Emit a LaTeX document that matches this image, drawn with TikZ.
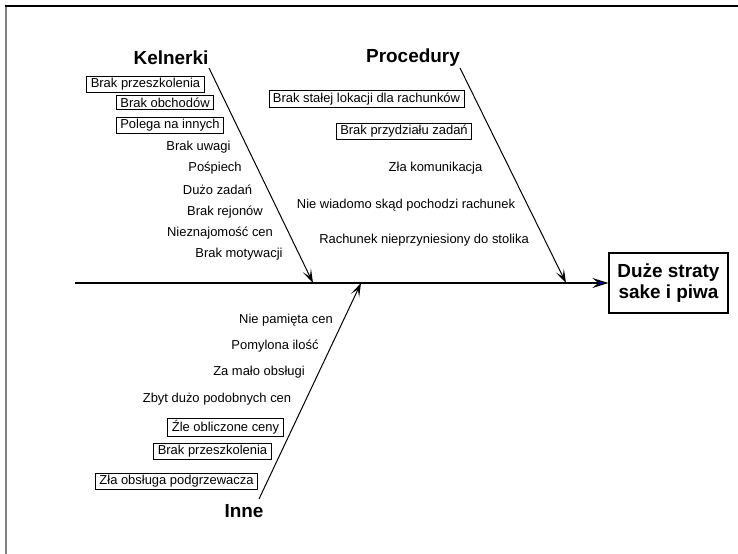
\documentclass[tikz,border=0pt]{standalone}
\usepackage{fontspec}
\setmainfont{Liberation Sans}
\usetikzlibrary{arrows.meta}
\begin{document}
\begin{tikzpicture}[x=1bp,y=-1bp,
  lbl/.style={font=\fontsize{13}{15}\selectfont, inner sep=0pt},
  blbl/.style={lbl, draw, line width=0.8bp, inner xsep=4bp, inner ysep=2bp},
  ttl/.style={font=\bfseries\fontsize{19}{21}\selectfont, inner sep=0pt},
  bone/.style={line width=1bp, -{Stealth[length=14bp,width=9bp,inset=7bp]}}
]
\useasboundingbox (0,0) rectangle (738,554);
\draw[gray, line width=1.2bp] (6,554) -- (6,6);
\draw[line width=1.2bp] (5,6) -- (738,6);

% effect
\node[draw, line width=1.2bp, align=center, font=\bfseries\fontsize{19}{21}\selectfont,
      minimum width=119bp, minimum height=60bp, inner sep=0pt] (eff) at (668.5,283) {Duże straty\\sake i piwa};
\coordinate (tail) at (75,283);
\draw[line width=1.2bp, -{Stealth[length=16bp,width=10bp,inset=6bp,fill=blue!80!black]}] (tail) -- (eff.west);

% titles
\node[ttl] (kel) at (171,58) {Kelnerki};
\node[ttl] (pro) at (413,58) {Procedury};
\node[ttl] (inn) at (244,511) {Inne};

% bones
\coordinate (ks) at (209,68);
\coordinate (kj) at (313,283);
\coordinate (ps) at (460,68);
\coordinate (pj) at (566,283);
\coordinate (is) at (259,499);
\coordinate (ij) at (361,283);
\draw[bone] (ks) -- (kj);
\draw[bone] (ps) -- (pj);
\draw[bone] (is) -- (ij);

% Kelnerki causes
\node[blbl] (k1) at (145.5,84) {Brak przeszkolenia};
\node[blbl] (k2) at (165,102.5) {Brak obchodów};
\node[blbl] (k3) at (170,125.5) {Polega na innych};
\node[lbl] (k4) at (198.5,147) {Brak uwagi};
\node[lbl] (k5) at (215,168) {Pośpiech};
\node[lbl] (k6) at (217.5,190) {Dużo zadań};
\node[lbl] (k7) at (225,212) {Brak rejonów};
\node[lbl] (k8) at (220,233) {Nieznajomość cen};
\node[lbl] (k9) at (239,254) {Brak motywacji};

% Procedury causes
\node[blbl] (p1) at (366.5,99) {Brak stałej lokacji dla rachunków};
\node[blbl] (p2) at (404,131.5) {Brak przydziału zadań};
\node[lbl] (p3) at (435.5,168) {Zła komunikacja};
\node[lbl] (p4) at (406,205) {Nie wiadomo skąd pochodzi rachunek};
\node[lbl] (p5) at (424,240) {Rachunek nieprzyniesiony do stolika};

% Inne causes
\node[lbl] (i1) at (286,320) {Nie pamięta cen};
\node[lbl] (i2) at (275,346) {Pomylona ilość};
\node[lbl] (i3) at (259,372) {Za mało obsługi};
\node[lbl] (i4) at (217,399) {Zbyt dużo podobnych cen};
\node[blbl] (i5) at (225.5,427) {Źle obliczone ceny};
\node[blbl] (i6) at (212.5,451.5) {Brak przeszkolenia};
\node[blbl] (i7) at (176.5,481) {Zła obsługa podgrzewacza};
\end{tikzpicture}
\end{document}
